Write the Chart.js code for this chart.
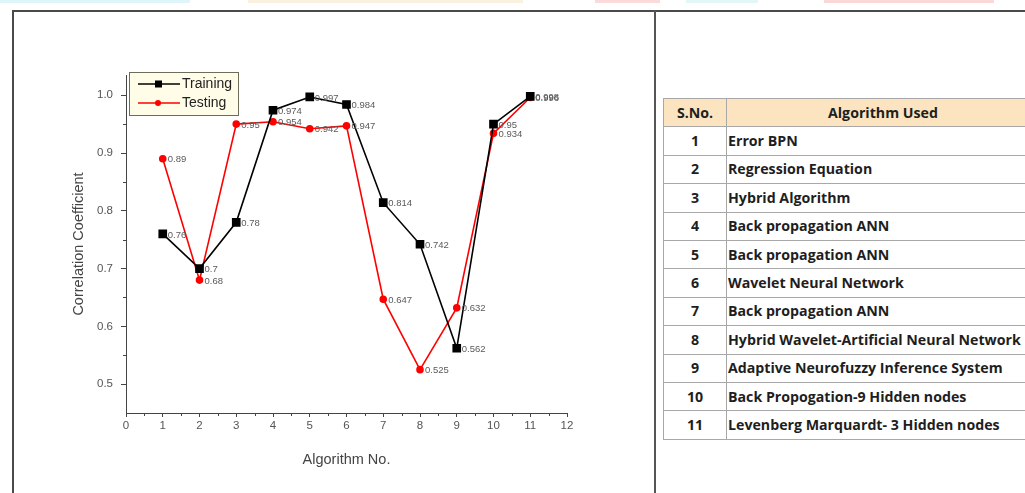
<!DOCTYPE html>
<html>
<head>
<meta charset="utf-8">
<script src="https://cdn.jsdelivr.net/npm/chart.js@4.4.1/dist/chart.umd.min.js"></script>
<style>
  html, body { margin: 0; padding: 0; width: 1025px; height: 493px; overflow: hidden; background: #fff; }
  #stage { position: relative; width: 1025px; height: 493px; }
  #chart { position: absolute; left: 0; top: 0; }
  .strip { position: absolute; top: 0; height: 3px; }
  .frameTop { position: absolute; left: 12px; top: 10px; width: 1013px; height: 2px; background: #4a4a4a; }
  .frameLeft { position: absolute; left: 12px; top: 10px; width: 2px; height: 483px; background: #4a4a4a; }
  .frameMid { position: absolute; left: 654px; top: 10px; width: 2px; height: 483px; background: #555; }
  table.algo {
    position: absolute; left: 663px; top: 98px; width: 400px;
    border-collapse: collapse; font-family: "Open Sans", Lato, sans-serif; font-weight: 700;
    font-size: 14.2px; color: #1e1e1e;
  }
  table.algo td, table.algo th { border: 1px solid #a8a8a8; height: 27.4px; padding: 0; line-height: 16px; white-space: nowrap; }
  table.algo th { background: #fbe4bf; font-weight: 700; }
  table.algo th.h2 { text-align: left; padding-left: 101px; }
  table.algo td.n { width: 62px; text-align: center; }
  table.algo td.t { padding-left: 1px; text-align: left; }
</style>
</head>
<body>
<div id="stage">
  <div class="strip" style="left:0;width:190px;background:#def5f9"></div>
  <div class="strip" style="left:248px;width:275px;background:#fbf1e0"></div>
  <div class="strip" style="left:595px;width:65px;background:#fadada"></div>
  <div class="strip" style="left:686px;width:72px;background:#e3f6f8"></div>
  <div class="strip" style="left:824px;width:170px;background:#fbd8d8"></div>
  <canvas id="chart" width="654" height="493"></canvas>
  <div class="frameTop"></div>
  <div class="frameLeft"></div>
  <div class="frameMid"></div>
  <table class="algo" id="algoTable"></table>
</div>
<script>
// Algorithm numbers on the x axis and the correlation coefficients per series
const algorithmNo = [1, 2, 3, 4, 5, 6, 7, 8, 9, 10, 11];
const training = [0.76, 0.7, 0.78, 0.974, 0.997, 0.984, 0.814, 0.742, 0.562, 0.95, 0.998];
const testing  = [0.89, 0.68, 0.95, 0.954, 0.942, 0.947, 0.647, 0.525, 0.632, 0.934, 0.996];
const yTickValues = [0.5, 0.6, 0.7, 0.8, 0.9, 1.0];
const xTickValues = [0, 1, 2, 3, 4, 5, 6, 7, 8, 9, 10, 11, 12];
const seriesNames = ['Training', 'Testing'];
const algorithmNames = [
  'Error BPN',
  'Regression Equation',
  'Hybrid Algorithm',
  'Back propagation ANN',
  'Back propagation ANN',
  'Wavelet Neural Network',
  'Back propagation ANN',
  'Hybrid Wavelet-Artificial Neural Network',
  'Adaptive Neurofuzzy Inference System',
  'Back Propogation-9 Hidden nodes',
  'Levenberg Marquardt- 3 Hidden nodes'
];

// Side table listing the algorithms
const tbl = document.getElementById('algoTable');
let html = '<tr><th>S.No.</th><th class="h2">Algorithm Used</th></tr>';
algorithmNo.forEach((n, i) => {
  html += '<tr><td class="n">' + n + '</td><td class="t">' + algorithmNames[i] + '</td></tr>';
});
tbl.innerHTML = html;

const FONT = '"Liberation Sans", Arial, sans-serif';
const toPoints = arr => algorithmNo.map((x, i) => ({ x: x, y: arr[i] }));

// Minor ticks, value labels next to markers and the boxed legend
const decor = {
  id: 'decor',
  afterDatasetsDraw(chart) {
    const ctx = chart.ctx;
    const xs = chart.scales.x, ys = chart.scales.y;
    ctx.save();
    ctx.strokeStyle = '#444';
    ctx.lineWidth = 1;
    // minor ticks
    for (let v = 0.55; v < 1.03; v += 0.1) {
      const py = Math.round(ys.getPixelForValue(v)) + 0.5;
      ctx.beginPath(); ctx.moveTo(xs.left - 3, py); ctx.lineTo(xs.left, py); ctx.stroke();
    }
    for (let v = 0.5; v < 12; v += 1) {
      const px = Math.round(xs.getPixelForValue(v)) + 0.5;
      ctx.beginPath(); ctx.moveTo(px, ys.bottom); ctx.lineTo(px, ys.bottom + 3); ctx.stroke();
    }
    // value labels
    ctx.font = '9.5px ' + FONT;
    ctx.fillStyle = '#5a5a5a';
    ctx.textBaseline = 'middle';
    ctx.textAlign = 'left';
    chart.data.datasets.forEach((ds, di) => {
      const meta = chart.getDatasetMeta(di);
      meta.data.forEach((pt, i) => {
        ctx.fillText(String(ds.data[i].y), pt.x + 5, pt.y + 1);
      });
    });
    // legend box
    const bx = 129, by = 72, bw = 109, bh = 43;
    ctx.fillStyle = '#fffce8';
    ctx.fillRect(bx, by, bw, bh);
    ctx.strokeStyle = '#6d6d5a';
    ctx.strokeRect(bx + 0.5, by + 0.5, bw, bh);
    chart.data.datasets.forEach((ds, di) => {
      const cy = by + 12 + di * 19;
      ctx.strokeStyle = ds.borderColor;
      ctx.lineWidth = 1.6;
      ctx.beginPath(); ctx.moveTo(138, cy); ctx.lineTo(180, cy); ctx.stroke();
      ctx.fillStyle = ds.borderColor;
      if (ds.pointStyle === 'rect') {
        ctx.fillRect(155, cy - 3.5, 7, 7);
      } else {
        ctx.beginPath(); ctx.arc(158, cy, 3, 0, Math.PI * 2); ctx.fill();
      }
      ctx.fillStyle = '#222';
      ctx.font = '14px ' + FONT;
      ctx.textBaseline = 'middle';
      ctx.fillText(ds.label, 182, cy);
    });
    ctx.restore();
  }
};

new Chart(document.getElementById('chart'), {
  type: 'line',
  data: {
    datasets: [
      {
        label: seriesNames[0], data: toPoints(training),
        borderColor: '#000000', backgroundColor: '#000000', borderWidth: 1.6,
        pointStyle: 'rect', pointRadius: 5, pointHoverRadius: 5, tension: 0
      },
      {
        label: seriesNames[1], data: toPoints(testing),
        borderColor: '#ff0000', backgroundColor: '#ff0000', borderWidth: 1.6,
        pointStyle: 'circle', pointRadius: 3, pointHoverRadius: 3, tension: 0
      }
    ]
  },
  options: {
    responsive: false,
    animation: false,
    devicePixelRatio: 1,
    layout: { padding: { left: 0, right: 87, top: 75, bottom: 0 } },
    plugins: { legend: { display: false }, tooltip: { enabled: false } },
    scales: {
      x: {
        type: 'linear', min: 0, max: 12,
        afterFit(s) { s.height = 80; },
        afterBuildTicks(s) { s.ticks = xTickValues.map(v => ({ value: v })); },
        grid: { display: true, drawOnChartArea: false, drawTicks: true, tickLength: 4, color: '#444' },
        border: { display: true, color: '#444', width: 1 },
        ticks: { font: { family: FONT, size: 11.5 }, color: '#555', padding: 2, maxRotation: 0 },
        title: { display: true, text: 'Algorithm No.', font: { family: FONT, size: 14.5 }, color: '#444', padding: { top: 0, bottom: 24 } }
      },
      y: {
        type: 'linear', min: 0.45, max: 1.035,
        afterFit(s) { s.width = 126; },
        afterBuildTicks(s) { s.ticks = yTickValues.map(v => ({ value: v })); },
        grid: { display: true, drawOnChartArea: false, drawTicks: true, tickLength: 5, color: '#444' },
        border: { display: true, color: '#444', width: 1 },
        ticks: { font: { family: FONT, size: 11.5 }, color: '#555', padding: 8, callback: v => v.toFixed(1) },
        title: { display: true, text: 'Correlation Coefficient', font: { family: FONT, size: 14.5 }, color: '#444', padding: { top: 70, bottom: 0 } }
      }
    }
  },
  plugins: [decor]
});
</script>
</body>
</html>
